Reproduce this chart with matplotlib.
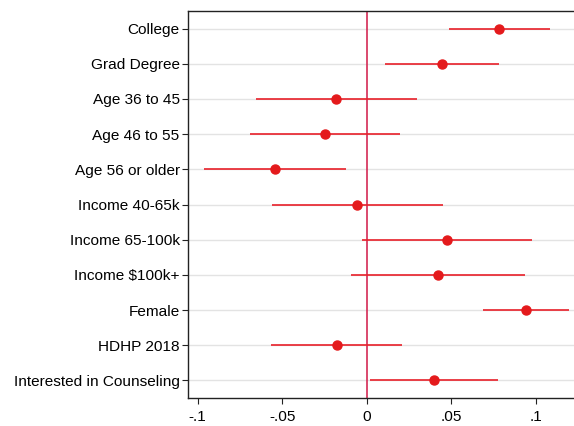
import matplotlib
matplotlib.use("Agg")
import matplotlib.pyplot as plt
import numpy as np

plt.rcParams['font.family'] = ['Liberation Sans', 'DejaVu Sans']

labels = ["College", "Grad Degree", "Age 36 to 45", "Age 46 to 55", "Age 56 or older",
          "Income 40-65k", "Income 65-100k", "Income $100k+", "Female", "HDHP 2018",
          "Interested in Counseling"]
coef = [0.0785, 0.0446, -0.0182, -0.0249, -0.0543, -0.0056, 0.0473, 0.0420, 0.0943, -0.0178, 0.0398]
ci_low = [0.0489, 0.0108, -0.0657, -0.0689, -0.0961, -0.0560, -0.0028, -0.0093, 0.0686, -0.0564, 0.0020]
ci_high = [0.1083, 0.0785, 0.0296, 0.0195, -0.0124, 0.0450, 0.0978, 0.0935, 0.1197, 0.0207, 0.0777]
xticks = [-0.1, -0.05, 0, 0.05, 0.1]
xticklabels = ["-.1", "-.05", "0", ".05", ".1"]

fig = plt.figure(figsize=(5.74, 4.26), dpi=100)
ax = fig.add_axes([188 / 574, 28 / 426, (574 - 188) / 574, (398 - 11) / 426])

y = np.arange(1, len(labels) + 1)
for yi in y:
    ax.axhline(yi, color="#e3e3e3", lw=1.0, zorder=0)

ax.axvline(0, color="#d42a55", lw=1.2, zorder=1)
ax.hlines(y, ci_low, ci_high, color="#e8202a", lw=1.2, zorder=2)
ax.plot(coef, y, "o", color="#e41a1c", ms=6.5, zorder=3)

ax.set_ylim(11.5, 0.5)
ax.set_xlim(-0.1057, 0.1227)
ax.set_yticks(y)
ax.set_yticklabels(labels, fontsize=11.1)
ax.set_xticks(xticks)
ax.set_xticklabels(xticklabels, fontsize=11.1)

ax.spines['right'].set_visible(False)
for s in ['left', 'bottom', 'top']:
    ax.spines[s].set_color("#222222")
    ax.spines[s].set_linewidth(1.0)
ax.tick_params(axis='both', length=4.5, width=0.8, color="#222222")
ax.tick_params(axis='y', pad=1.5)
ax.tick_params(axis='x', pad=4)

fig.savefig("out.png", dpi=100)
